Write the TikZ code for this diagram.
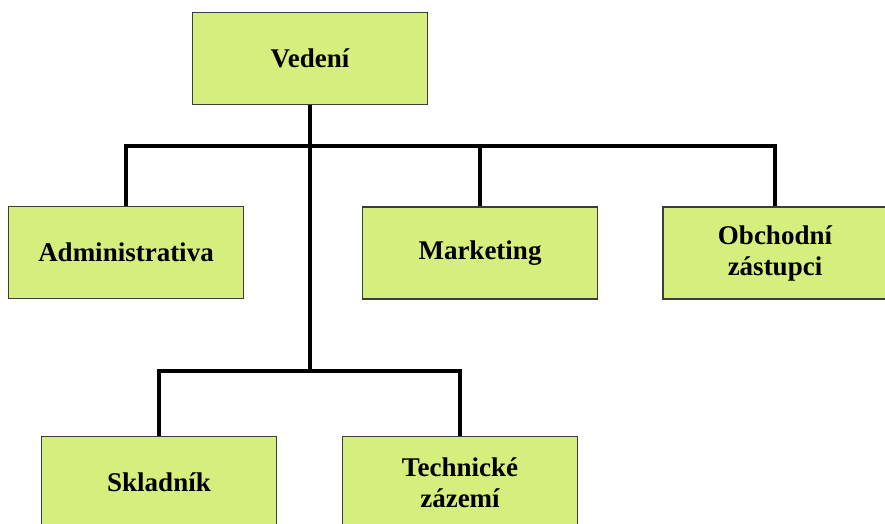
\documentclass[tikz,border=0pt]{standalone}
\usepackage{fontspec}
\setmainfont{Liberation Serif}
\definecolor{boxgreen}{RGB}{214,238,125}
\definecolor{boxedge}{RGB}{60,60,60}
\tikzset{
  unit/.style={draw=boxedge, line width=1.2pt, fill=boxgreen,
    minimum width=235pt, minimum height=92pt, inner sep=0pt,
    align=center, font=\fontsize{27}{31}\selectfont\bfseries},
  link/.style={line width=3.3pt, line join=miter}
}
\begin{document}
\begin{tikzpicture}[x=1pt,y=-1pt]
    \useasboundingbox (0,0) rectangle (885,524);
    % boxes
    \node[unit] (vedeni) at (310,58.5) {Vedení};
    \node[unit] (admin) at (126,252.5) {Administrativa};
    \node[unit] (marketing) at (480,253) {Marketing};
    \node[unit, minimum width=224pt] (obchod) at (775,253) {Obchodní\\zástupci};
    \node[unit] (sklad) at (159,482.5) {Skladník};
    \node[unit] (tech) at (460,482.5) {Technické\\zázemí};
    % connectors
    \coordinate (bus) at (vedeni.south |- 0,146);
    \coordinate (lowbus) at (vedeni.south |- 0,371);
    \draw[link] (vedeni.south) -- (lowbus);
    \draw[link] (admin.north) |- (obchod.north |- bus) -- (obchod.north);
    \draw[link] (marketing.north) -- (marketing.north |- bus);
    \draw[link] (sklad.north) |- (tech.north |- lowbus) -- (tech.north);
\end{tikzpicture}
\end{document}
